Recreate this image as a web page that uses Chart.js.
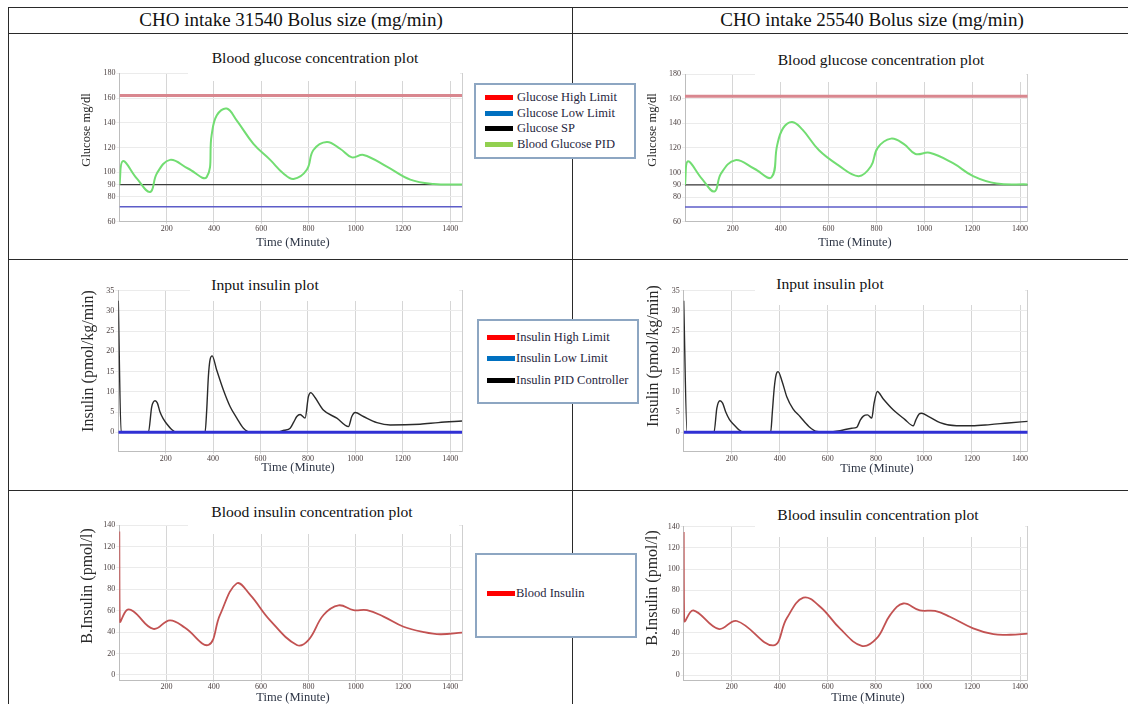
<!DOCTYPE html>
<html><head><meta charset="utf-8">
<script src="https://cdn.jsdelivr.net/npm/chart.js@4.4.1/dist/chart.umd.min.js"></script>
<style>
html,body{margin:0;padding:0;background:#fff}
body{width:1128px;height:704px;overflow:hidden;position:relative;font-family:"Liberation Serif","Times New Roman",serif}
.ln{position:absolute;background:#2a2a2a}
canvas{position:absolute}
.c{position:absolute;transform:translate(-50%,-50%);white-space:nowrap}
.cover{position:absolute;background:#fff}
.ttl{font-size:15.6px;color:#111}
.xt{font-size:12.5px;color:#2e3646}
.yt{transform:translate(-50%,-50%) rotate(-90deg);color:#2a2a2a}
.leg{position:absolute;background:#fff;border:2px solid #8da6c2;box-sizing:border-box}
.it{position:absolute;font-size:12.5px;color:#1f2640;white-space:nowrap;line-height:14px}
.sw{position:absolute;width:28px;height:5px}
</style>
</head><body>

<div class="ln" style="left:7.5px;top:6.5px;width:1121px;height:1.5px"></div>
<div class="ln" style="left:7.5px;top:32.5px;width:1121px;height:1.5px"></div>
<div class="ln" style="left:7.5px;top:258.5px;width:1121px;height:1.5px"></div>
<div class="ln" style="left:7.5px;top:489.5px;width:1121px;height:1.5px"></div>
<div class="ln" style="left:7.5px;top:6.5px;width:1.5px;height:698px"></div>
<div class="ln" style="left:571.5px;top:6.5px;width:1.5px;height:698px"></div>

<div class="c" style="left:291px;top:20px;font-size:19px;color:#111">CHO intake 31540 Bolus size (mg/min)</div>
<div class="c" style="left:872px;top:20px;font-size:19px;color:#111">CHO intake 25540 Bolus size (mg/min)</div>

<canvas id="c1"></canvas><canvas id="c2"></canvas><canvas id="c3"></canvas>
<canvas id="c4"></canvas><canvas id="c5"></canvas><canvas id="c6"></canvas>

<div class="cover" style="left:188px;top:44px;width:272px;height:37px"></div>
<div class="cover" style="left:755px;top:44px;width:271px;height:38px"></div>
<div class="cover" style="left:190px;top:272px;width:269px;height:29px"></div>
<div class="cover" style="left:755px;top:272px;width:270px;height:33px"></div>
<div class="cover" style="left:188px;top:497px;width:271px;height:37px"></div>
<div class="cover" style="left:755px;top:497px;width:270px;height:40px"></div>

<div class="c ttl" style="left:315px;top:58px">Blood glucose concentration plot</div>
<div class="c ttl" style="left:881px;top:60px">Blood glucose concentration plot</div>
<div class="c ttl" style="left:265px;top:285px">Input insulin plot</div>
<div class="c ttl" style="left:830px;top:284px">Input insulin plot</div>
<div class="c ttl" style="left:312px;top:512px">Blood insulin concentration plot</div>
<div class="c ttl" style="left:878px;top:515px">Blood insulin concentration plot</div>

<div class="c yt" style="left:86px;top:130px;font-size:12.5px">Glucose mg/dl</div>
<div class="c yt" style="left:652px;top:130px;font-size:12.5px">Glucose mg/dl</div>
<div class="c yt" style="left:88px;top:361px;font-size:16px">Insulin (pmol/kg/min)</div>
<div class="c yt" style="left:653px;top:356px;font-size:16px">Insulin (pmol/kg/min)</div>
<div class="c yt" style="left:87px;top:586px;font-size:16px">B.Insulin (pmol/l)</div>
<div class="c yt" style="left:652px;top:588px;font-size:16px">B.Insulin (pmol/l)</div>

<div class="c xt" style="left:293px;top:242px">Time (Minute)</div>
<div class="c xt" style="left:855px;top:242px">Time (Minute)</div>
<div class="c xt" style="left:298px;top:467px">Time (Minute)</div>
<div class="c xt" style="left:877px;top:468px">Time (Minute)</div>
<div class="c xt" style="left:293px;top:697px">Time (Minute)</div>
<div class="c xt" style="left:868px;top:697px">Time (Minute)</div>

<div class="leg" style="left:474px;top:83px;width:162px;height:76px"></div>
<div class="sw" style="left:485px;top:94.5px;background:#ff0000"></div><div class="it" style="left:517px;top:90px">Glucose High Limit</div>
<div class="sw" style="left:485px;top:110.5px;background:#0070c0"></div><div class="it" style="left:517px;top:106px">Glucose Low Limit</div>
<div class="sw" style="left:485px;top:126px;background:#000"></div><div class="it" style="left:517px;top:121px">Glucose SP</div>
<div class="sw" style="left:485px;top:141.5px;background:#92d050"></div><div class="it" style="left:517px;top:137px">Blood Glucose PID</div>

<div class="leg" style="left:477px;top:319px;width:162px;height:85px"></div>
<div class="sw" style="left:487px;top:334.5px;background:#ff0000"></div><div class="it" style="left:516px;top:330px">Insulin High Limit</div>
<div class="sw" style="left:487px;top:356px;background:#0070c0"></div><div class="it" style="left:516px;top:351px">Insulin Low Limit</div>
<div class="sw" style="left:487px;top:377.5px;background:#000"></div><div class="it" style="left:516px;top:373px">Insulin PID Controller</div>

<div class="leg" style="left:475px;top:553px;width:162px;height:85px"></div>
<div class="sw" style="left:487px;top:590.5px;background:#ff0000"></div><div class="it" style="left:516px;top:586px">Blood Insulin</div>

<script>
// ---- tick labels ----
const timeTicks = [200, 400, 600, 800, 1000, 1200, 1400];
const glucoseTicks = [60, 80, 90, 100, 120, 140, 160, 180];
const insulinTicks = [0, 5, 10, 15, 20, 25, 30, 35];
const bloodTicks = [0, 20, 40, 60, 80, 100, 120, 140];

// ---- limits ----
const glucoseHighLimit = 162;
const glucoseLowLimit = 72;
const glucoseSetPoint = 90;
const insulinLowLimit = 0;

// ---- CHO 31540 ----
const glucoseTimeA = [0, 14, 73, 130, 158, 214, 290, 369, 390, 412, 454, 496, 567, 638, 694, 737, 793, 821, 878, 934, 984, 1033, 1132, 1231, 1330, 1450];
const glucoseA     = [90, 109, 95, 84, 99, 110, 103, 96, 130, 146, 151.5, 142, 123, 110, 99, 94.5, 102, 118, 124.5, 119, 112, 114, 104.5, 94, 90.5, 90];
const insulinTimeA = [0, 12, 127, 141, 155, 165, 176, 190, 204, 225, 246, 366, 373, 380, 387, 396, 415, 443, 472, 500, 528, 556, 668, 700, 725, 740, 753, 767, 788, 802, 812, 830, 865, 922, 971, 985, 999, 1034, 1091, 1147, 1273, 1350, 1450];
const insulinA     = [32.5, 0, 0, 6.3, 7.8, 7.2, 5, 3.3, 2.1, 0.7, 0, 0, 5.5, 13.8, 17.9, 18.9, 15.4, 10.5, 6.3, 3.5, 1, 0, 0, 0.5, 1, 2.5, 3.9, 4.4, 3.5, 8.8, 9.8, 8.6, 5.5, 3.5, 1.4, 3.9, 4.9, 3.9, 2.4, 1.8, 2, 2.4, 2.8];
const bloodTimeA   = [0, 2, 31, 59, 144, 214, 278, 377, 426, 497, 553, 638, 751, 800, 864, 928, 991, 1048, 1118, 1203, 1288, 1358, 1450];
const bloodA       = [134, 50, 60.5, 59.5, 43, 51, 44, 28, 56, 85.5, 75, 51, 28, 32.5, 56, 65, 60.5, 60.5, 54.5, 45, 40, 38, 39.5];

// ---- CHO 25540 ----
const glucoseTimeB = [0, 11, 70, 123, 150, 210, 290, 361, 385, 410, 448, 490, 560, 640, 725, 777, 805, 861, 915, 963, 1022, 1120, 1204, 1302, 1432];
const glucoseB     = [90, 109, 95, 84.5, 99, 110, 103, 96, 122, 136, 141, 135, 118, 106, 97, 105, 120, 127.5, 123, 115, 116, 107.5, 97, 91, 90.3];
const insulinTimeB = [0, 14, 126, 138, 151, 162, 175, 190, 210, 230, 249, 362, 369, 377, 385, 393, 410, 429, 455, 484, 520, 554, 600, 651, 700, 720, 735, 748, 765, 783, 792, 806, 830, 873, 920, 956, 966, 980, 990, 1020, 1067, 1136, 1200, 1275, 1350, 1432];
const insulinB     = [32.5, 0, 0, 6, 7.8, 7.2, 5, 3.2, 1.8, 0.6, 0, 0, 5, 11, 14.3, 15, 12.5, 8.8, 5.8, 3.9, 1.5, 0.2, 0.1, 0.4, 1, 1.2, 3, 4, 4.3, 3.5, 7, 10.1, 8.3, 5.5, 3.2, 1.6, 3, 4.5, 4.7, 3.9, 2.4, 1.6, 1.6, 1.9, 2.3, 2.7];
const bloodTimeB   = [0, 2, 40, 145, 221, 373, 429, 498, 568, 650, 741, 803, 859, 914, 983, 1046, 1108, 1205, 1289, 1360, 1432];
const bloodB       = [135, 51, 61, 43.5, 51, 28, 53.5, 73, 64.5, 44, 27.5, 34.5, 56.5, 67.5, 61, 60.5, 55, 44, 38.5, 38, 39];

function pts(t, v) { return t.map((x, i) => ({ x: x, y: v[i] })); }
function flat(v, max) { return [{ x: 0, y: v }, { x: max, y: v }]; }
function smooth(data, color, width) {
  return { data: data, borderColor: color, borderWidth: width, fill: false, tension: 0.4, pointRadius: 0 };
}
function mono(data, color, width) {
  return { data: data, borderColor: color, borderWidth: width, fill: false, cubicInterpolationMode: 'monotone', pointRadius: 0 };
}
function straight(data, color, width) {
  return { data: data, borderColor: color, borderWidth: width, fill: false, tension: 0, pointRadius: 0 };
}

const tickFont = { family: 'Liberation Serif', size: 8 };
const tickColor = '#4d4242';

function makeChart(id, area, xMax, yMin, yMax, yTicks, datasets) {
  const cl = Math.floor(area.l) - 30, ct = Math.floor(area.t) - 8;
  const cr = Math.ceil(area.r) + 4, cb = Math.ceil(area.b) + 14;
  const cv = document.getElementById(id);
  cv.width = cr - cl; cv.height = cb - ct;
  cv.style.left = cl + 'px'; cv.style.top = ct + 'px';
  new Chart(cv, {
    type: 'line',
    data: { datasets: datasets },
    options: {
      responsive: false, animation: false, events: [],
      layout: { padding: { left: 0, top: area.t - ct, right: cr - area.r, bottom: 0 } },
      plugins: { legend: { display: false }, tooltip: { enabled: false }, title: { display: false } },
      scales: {
        x: {
          type: 'linear', min: 0, max: xMax,
          afterBuildTicks: s => { s.ticks = timeTicks.map(v => ({ value: v })); },
          afterFit: s => { s.height = cb - area.b; },
          grid: { color: '#d6d6d6', lineWidth: 1, tickLength: 2, drawTicks: true },
          border: { color: '#bdbdbd', width: 1 },
          ticks: { font: tickFont, color: tickColor, padding: 0, maxRotation: 0, autoSkip: false, callback: v => String(v) }
        },
        y: {
          type: 'linear', min: yMin, max: yMax,
          afterBuildTicks: s => { s.ticks = yTicks.map(v => ({ value: v })); },
          afterFit: s => { s.width = area.l - cl; },
          grid: { color: '#ebebeb', lineWidth: 1, tickLength: 3, drawTicks: true },
          border: { color: '#bdbdbd', width: 1 },
          ticks: { font: tickFont, color: tickColor, padding: 1, autoSkip: false, callback: v => String(v) }
        },
        y2: {
          type: 'linear', position: 'right', display: true, min: yMin, max: yMax,
          afterFit: s => { s.width = 0; },
          grid: { display: false, drawTicks: false },
          border: { color: '#cfcfcf', width: 1 },
          ticks: { display: false }
        }
      }
    }
  });
}

// Glucose charts
makeChart('c1', { l: 119.5, r: 462, t: 73.3, b: 221.7 }, 1450, 60, 180, glucoseTicks, [
  smooth(pts(glucoseTimeA, glucoseA), '#72dd72', 2),
  straight(flat(glucoseSetPoint, 1450), '#3a3a3a', 1.2),
  straight(flat(glucoseLowLimit, 1450), '#5d5dc8', 1.5),
  straight(flat(glucoseHighLimit, 1450), '#d9878f', 3)
]);
makeChart('c2', { l: 685, r: 1027.7, t: 74, b: 221.7 }, 1432, 60, 180, glucoseTicks, [
  smooth(pts(glucoseTimeB, glucoseB), '#72dd72', 2),
  straight(flat(glucoseSetPoint, 1432), '#3a3a3a', 1.2),
  straight(flat(glucoseLowLimit, 1432), '#5d5dc8', 1.5),
  straight(flat(glucoseHighLimit, 1432), '#d9878f', 3)
]);
// Input insulin charts
makeChart('c3', { l: 118.3, r: 462, t: 290.7, b: 451.7 }, 1450, -4.8, 35, insulinTicks, [
  straight(flat(insulinLowLimit, 1450), '#3030d4', 3),
  mono(pts(insulinTimeA, insulinA), '#2a2a2a', 1.4)
]);
makeChart('c4', { l: 683.7, r: 1027.7, t: 290.7, b: 451.7 }, 1432, -4.8, 35, insulinTicks, [
  straight(flat(insulinLowLimit, 1432), '#3030d4', 3),
  mono(pts(insulinTimeB, insulinB), '#2a2a2a', 1.4)
]);
// Blood insulin charts
makeChart('c5', { l: 119.3, r: 462, t: 525, b: 680 }, 1450, -4.7, 140, bloodTicks, [
  smooth(pts(bloodTimeA, bloodA), '#c25252', 1.8)
]);
makeChart('c6', { l: 683.7, r: 1027.7, t: 526.7, b: 680 }, 1432, -4.7, 140, bloodTicks, [
  smooth(pts(bloodTimeB, bloodB), '#c25252', 1.8)
]);
</script>
</body></html>
